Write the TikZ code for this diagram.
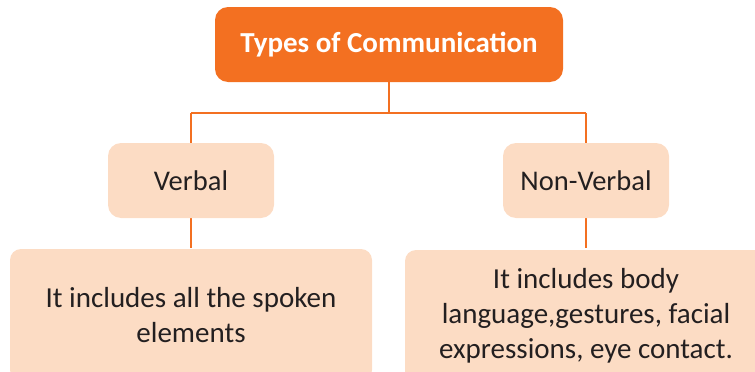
\documentclass[tikz,border=0pt]{standalone}
\usepackage{fontspec}
\setmainfont{Carlito}
\definecolor{orangeM}{HTML}{F37021}
\definecolor{peach}{HTML}{FCDCC4}
\definecolor{txt}{HTML}{231F20}
\begin{document}
\begin{tikzpicture}[x=1pt,y=-1pt,
  topbox/.style={fill=orangeM, rounded corners=13pt, minimum width=348pt, minimum height=75pt, text=white, font=\fontsize{29}{35}\selectfont\bfseries, inner sep=0pt},
  midbox/.style={fill=peach, rounded corners=13pt, minimum width=166pt, minimum height=75pt, text=txt, font=\fontsize{28.5}{35}\selectfont, inner sep=0pt},
  lowbox/.style={fill=peach, rounded corners=11pt, minimum width=362pt, minimum height=132pt, text=txt, font=\fontsize{29}{35}\selectfont, align=center, inner sep=0pt},
  link/.style={draw=orangeM, line width=2pt}]
\useasboundingbox (0,0) rectangle (755,372);
\clip (0,0) rectangle (755,372);
\coordinate (j) at (389,113);
\coordinate (jl) at (191,113);
\coordinate (jr) at (586,113);
\draw[link] (389,82) -- (j);
\draw[link] (jl) -- (jr);
\draw[link] (jl) -- (191,143);
\draw[link] (jr) -- (586,143);
\draw[link] (191,218) -- (191,248);
\draw[link] (586,218) -- (586,248);
\node[topbox] (top) at (389,44.5) {Types of Communication};
\node[midbox] (verbal) at (191,180.5) {Verbal};
\node[midbox] (nonverbal) at (586,180.5) {Non-Verbal};
\node[lowbox] (vdesc) at (191,315) {It includes all the spoken\\elements};
\node[lowbox] (ndesc) at (586,316) {It includes body\\language,gestures, facial\\expressions, eye contact.};
\end{tikzpicture}
\end{document}
